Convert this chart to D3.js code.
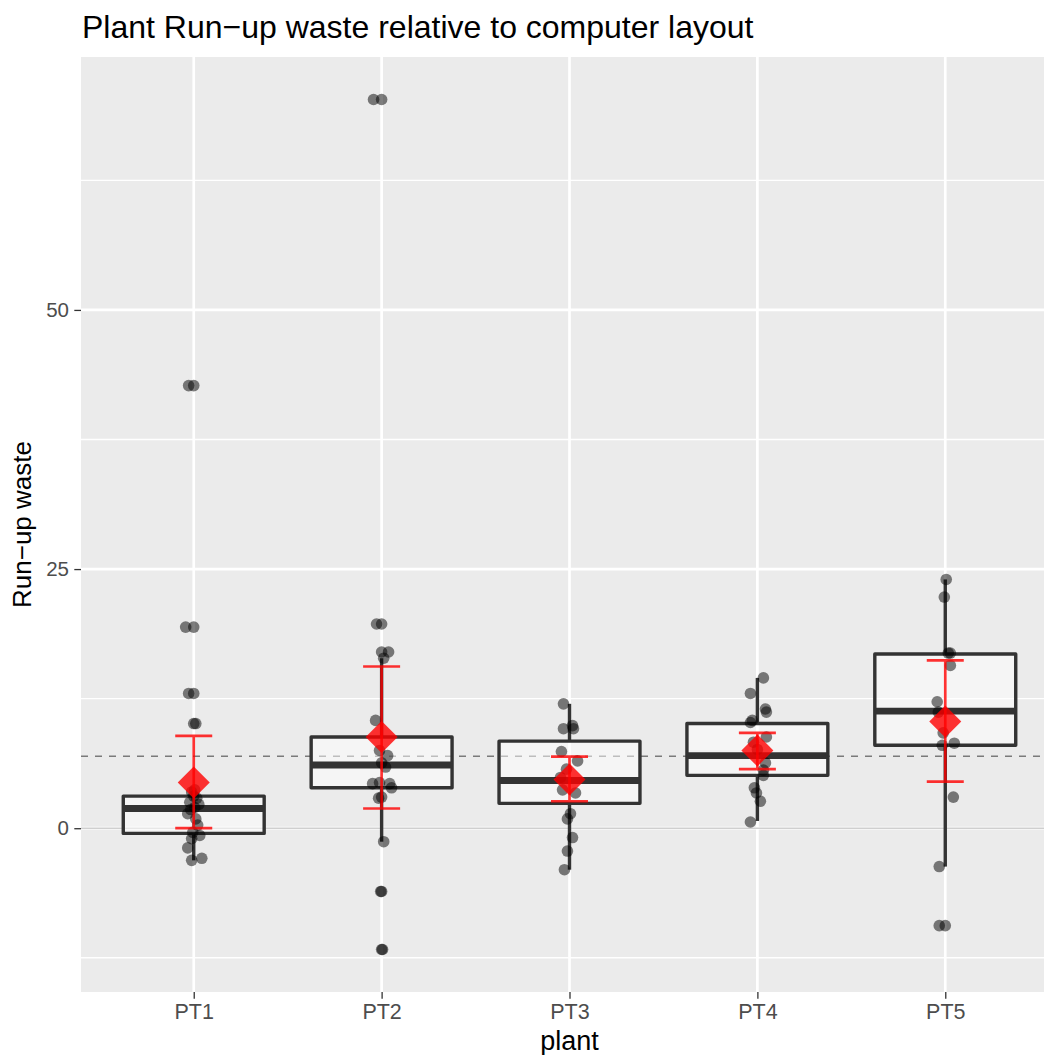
<!DOCTYPE html>
<html>
<head>
<meta charset="utf-8">
<script src="https://cdn.jsdelivr.net/npm/d3@7"></script>
<style>
  html, body { margin: 0; padding: 0; background: #ffffff; }
  svg { display: block; }
  text { font-family: "Liberation Sans", Arial, Helvetica, sans-serif; }
</style>
</head>
<body>
<svg id="chart" width="1044" height="1055"></svg>
<script>
// ---- data -------------------------------------------------------------
const plants = ["PT1", "PT2", "PT3", "PT4", "PT5"];
const yMajorTicks = [0, 25, 50, 75];
const yMinorTicks = [-12.5, 12.5, 37.5, 62.5];

// run-up waste observations per plant, with their horizontal jitter (category units)
const wastePT1  = [42.7, 19.4, 13.0, 10.1, 3.7, 3.5, 3.1, 2.9, 2.5, 2.3, 2.0, 1.8, 1.4, 0.9, 0.3, -0.4, -0.7, -1.0, -1.9, -2.9, -3.1];
const jitterPT1 = [-0.027, -0.043, -0.027, 0.011, 0.005, -0.011, 0, 0.016, -0.021, 0.027, 0.005, -0.016, -0.032, 0.011, 0.021, -0.005, 0.032, -0.011, -0.032, 0.043, -0.011];
const wastePT2  = [70.3, 19.7, 17.0, 16.4, 10.4, 7.5, 7.0, 6.3, 5.9, 4.4, 4.3, 4.3, 3.9, 3.0, 2.9, -1.3, -6.1, -11.7];
const jitterPT2 = [-0.043, -0.027, 0.037, 0.011, -0.032, -0.011, 0.032, 0, 0.021, -0.011, -0.048, 0.043, 0.053, 0, -0.016, 0.011, -0.005, 0.005];
const wastePT3  = [12.0, 9.9, 9.6, 9.6, 7.4, 6.5, 5.7, 4.9, 3.7, 3.4, 1.4, 0.9, -0.9, -2.2, -4.0];
const jitterPT3 = [-0.032, 0.016, -0.032, 0.021, -0.043, 0.043, -0.016, -0.048, -0.037, 0.032, 0.005, -0.011, 0.016, -0.011, -0.027];
const wastePT4  = [14.5, 13.0, 11.5, 11.2, 10.4, 10.2, 8.8, 8.3, 7.6, 6.3, 5.6, 5.1, 3.9, 3.4, 2.6, 0.6];
const jitterPT4 = [0.032, -0.037, 0.043, 0.048, -0.027, -0.037, 0.048, -0.021, 0, 0.043, 0.032, 0.032, -0.016, -0.005, 0.016, -0.037];
const wastePT5  = [24.0, 22.3, 16.9, 16.9, 15.7, 12.2, 11.2, 9.2, 8.2, 8.0, 3.0, -3.7, -9.4];
const jitterPT5 = [0.005, -0.005, 0.016, 0.027, 0.027, -0.043, -0.037, -0.011, 0.048, -0.016, 0.043, -0.032, -0.032];

// boxplot summaries per plant
const boxLower    = [-3.1, -1.3, -4.0, 0.7, -3.7];
const boxQ1       = [-0.5, 3.9, 2.4, 5.1, 8.0];
const boxMedian   = [1.9, 6.1, 4.6, 7.0, 11.3];
const boxQ3       = [3.1, 8.8, 8.4, 10.1, 16.8];
const boxUpper    = [3.7, 16.4, 12.0, 14.5, 24.0];
const outliersPT1 = [42.7, 19.4, 13.0, 10.1];
const outliersPT2 = [70.3, 19.7, 17.0, -6.1, -11.7];
const outliersPT3 = [];
const outliersPT4 = [];
const outliersPT5 = [-9.4];

// plant means with confidence interval
const plantMean = [4.4, 8.8, 4.7, 7.5, 10.3];
const ciLow     = [0.0, 1.9, 2.6, 5.7, 4.5];
const ciHigh    = [8.9, 15.6, 6.9, 9.2, 16.2];

// reference lines
const overallMean = 6.95;
const zeroLine = 0;

// ---- layout -----------------------------------------------------------
const panel = { left: 81, right: 1058, top: 57, bottom: 992 };
const svg = d3.select("#chart");

const x = d3.scalePoint().domain(plants).range([panel.left, panel.right]).padding(0.6);
const step = x.step();
const y = d3.scaleLinear().domain([-15.8, 74.4]).range([panel.bottom, panel.top]);

const obs = [
  [wastePT1, jitterPT1], [wastePT2, jitterPT2], [wastePT3, jitterPT3],
  [wastePT4, jitterPT4], [wastePT5, jitterPT5]
];
const outs = [outliersPT1, outliersPT2, outliersPT3, outliersPT4, outliersPT5];

svg.append("defs").append("clipPath").attr("id", "panelClip")
  .append("rect")
  .attr("x", panel.left).attr("y", panel.top)
  .attr("width", panel.right - panel.left).attr("height", panel.bottom - panel.top);

const g = svg.append("g").attr("clip-path", "url(#panelClip)");

// panel background and grid
g.append("rect")
  .attr("x", panel.left).attr("y", panel.top)
  .attr("width", panel.right - panel.left).attr("height", panel.bottom - panel.top)
  .attr("fill", "#ebebeb");

g.selectAll("line.minor").data(yMinorTicks).join("line")
  .attr("x1", panel.left).attr("x2", panel.right)
  .attr("y1", d => y(d)).attr("y2", d => y(d))
  .attr("stroke", "#ffffff").attr("stroke-width", 1.35);

g.selectAll("line.majorY").data(yMajorTicks).join("line")
  .attr("x1", panel.left).attr("x2", panel.right)
  .attr("y1", d => y(d)).attr("y2", d => y(d))
  .attr("stroke", "#ffffff").attr("stroke-width", 2.7);

g.selectAll("line.majorX").data(plants).join("line")
  .attr("x1", d => x(d)).attr("x2", d => x(d))
  .attr("y1", panel.top).attr("y2", panel.bottom)
  .attr("stroke", "#ffffff").attr("stroke-width", 2.7);

// zero reference and overall mean
g.append("line")
  .attr("x1", panel.left).attr("x2", panel.right)
  .attr("y1", y(zeroLine)).attr("y2", y(zeroLine))
  .attr("stroke", "#cfcfcf").attr("stroke-width", 1.5);

g.append("line")
  .attr("x1", panel.left).attr("x2", panel.right)
  .attr("y1", y(overallMean)).attr("y2", y(overallMean))
  .attr("stroke", "#7a7a7a").attr("stroke-width", 1.4)
  .attr("stroke-dasharray", "7,7");

// boxplots
const boxW = 0.75 * step;
const boxG = g.append("g");
plants.forEach((p, i) => {
  const cx = x(p);
  // outliers
  boxG.selectAll(null).data(outs[i]).join("circle")
    .attr("cx", cx).attr("cy", d => y(d)).attr("r", 5.8)
    .attr("fill", "#000000").attr("fill-opacity", 0.5);
  // whiskers
  boxG.append("line")
    .attr("x1", cx).attr("x2", cx)
    .attr("y1", y(boxQ3[i])).attr("y2", y(boxUpper[i]))
    .attr("stroke", "#333333").attr("stroke-width", 3.4);
  boxG.append("line")
    .attr("x1", cx).attr("x2", cx)
    .attr("y1", y(boxQ1[i])).attr("y2", y(boxLower[i]))
    .attr("stroke", "#333333").attr("stroke-width", 3.4);
  // box
  boxG.append("rect")
    .attr("x", cx - boxW / 2).attr("width", boxW)
    .attr("y", y(boxQ3[i])).attr("height", y(boxQ1[i]) - y(boxQ3[i]))
    .attr("fill", "#ffffff").attr("fill-opacity", 0.5)
    .attr("stroke", "#333333").attr("stroke-width", 3.4)
    .attr("stroke-linejoin", "round");
  // median
  boxG.append("line")
    .attr("x1", cx - boxW / 2).attr("x2", cx + boxW / 2)
    .attr("y1", y(boxMedian[i])).attr("y2", y(boxMedian[i]))
    .attr("stroke", "#333333").attr("stroke-width", 6.9);
});

// jittered observations
const ptG = g.append("g");
plants.forEach((p, i) => {
  const [vals, jit] = obs[i];
  ptG.selectAll(null).data(vals.map((v, k) => ({ v, j: jit[k] }))).join("circle")
    .attr("cx", d => x(p) + d.j * step)
    .attr("cy", d => y(d.v))
    .attr("r", 5.8)
    .attr("fill", "#000000").attr("fill-opacity", 0.5);
});

// mean and confidence interval
const red = "#ff0000";
const capW = 37;
const ciG = g.append("g").attr("opacity", 0.8);
plants.forEach((p, i) => {
  const cx = x(p);
  const eg = ciG.append("g");
  eg.append("line").attr("x1", cx).attr("x2", cx)
    .attr("y1", y(ciHigh[i])).attr("y2", y(ciLow[i]))
    .attr("stroke", red).attr("stroke-width", 2.7);
  eg.append("line").attr("x1", cx - capW / 2).attr("x2", cx + capW / 2)
    .attr("y1", y(ciHigh[i])).attr("y2", y(ciHigh[i]))
    .attr("stroke", red).attr("stroke-width", 2.7);
  eg.append("line").attr("x1", cx - capW / 2).attr("x2", cx + capW / 2)
    .attr("y1", y(ciLow[i])).attr("y2", y(ciLow[i]))
    .attr("stroke", red).attr("stroke-width", 2.7);
});
const dm = 16;
g.selectAll("path.mean").data(plants).join("path")
  .attr("d", (p, i) => {
    const cx = x(p), cy = y(plantMean[i]);
    return `M${cx},${cy - dm}L${cx + dm},${cy}L${cx},${cy + dm}L${cx - dm},${cy}Z`;
  })
  .attr("fill", red).attr("fill-opacity", 0.8);

// ---- axes -------------------------------------------------------------
const axisText = "#4d4d4d";
const yAxis = svg.append("g")
  .attr("transform", `translate(${panel.left},0)`)
  .call(d3.axisLeft(y).tickValues(yMajorTicks.filter(t => y(t) >= panel.top)).tickSize(6.7).tickPadding(5.3).tickFormat(d3.format("d")));
yAxis.select(".domain").remove();
yAxis.selectAll(".tick line").attr("stroke", "#333333").attr("stroke-width", 1.3);
yAxis.selectAll(".tick text").attr("fill", axisText).attr("font-size", 20.5)
  .attr("font-family", "Liberation Sans, Arial, sans-serif");

const xAxis = svg.append("g")
  .attr("transform", `translate(0,${panel.bottom})`)
  .call(d3.axisBottom(x).tickSize(6.7).tickPadding(5.3));
xAxis.select(".domain").remove();
xAxis.selectAll(".tick line").attr("stroke", "#333333").attr("stroke-width", 1.3);
xAxis.selectAll(".tick text").attr("fill", axisText).attr("font-size", 21.5)
  .attr("font-family", "Liberation Sans, Arial, sans-serif");

// titles
svg.append("text")
  .attr("x", x("PT3"))
  .attr("y", 1050)
  .attr("text-anchor", "middle")
  .attr("font-size", 27).attr("fill", "#000000")
  .text("plant");

svg.append("text")
  .attr("transform", `translate(31,${(panel.top + panel.bottom) / 2}) rotate(-90)`)
  .attr("text-anchor", "middle")
  .attr("font-size", 26).attr("fill", "#000000")
  .text("Run\u2212up waste");

svg.append("text")
  .attr("x", 82).attr("y", 38)
  .attr("font-size", 32).attr("fill", "#000000")
  .text("Plant Run\u2212up waste relative to computer layout");
</script>
</body>
</html>
